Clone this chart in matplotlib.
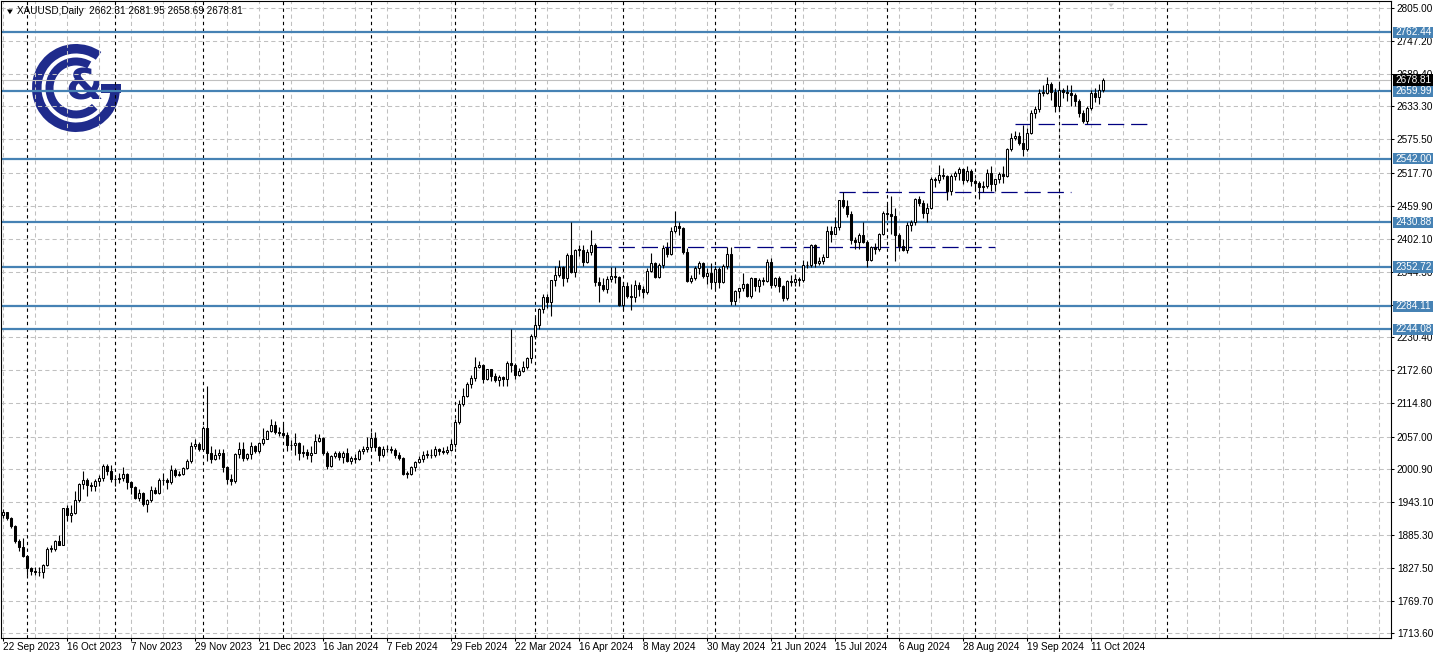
import matplotlib
matplotlib.use('Agg')
import matplotlib.pyplot as plt
from matplotlib.patches import Rectangle, Wedge, Polygon
from matplotlib.transforms import blended_transform_factory
import numpy as np

W, H = 1437, 658

# ---------------- data (XAUUSD daily, 22 Sep 2023 .. 16 Oct 2024) ----------------
opens = [
    1919.8, 1925.3, 1915.5, 1900.5, 1874.5, 1864.5,
    1848.6, 1827.6, 1822.7, 1820.8, 1820.4, 1833, 1861, 1861, 1874, 1868, 1932, 1920, 1923, 1947, 1974, 1981, 1973, 1970, 1979, 1985, 2006, 1996,
    1983, 1982, 1985, 1992, 1978, 1969, 1950, 1958, 1940, 1946, 1963, 1959, 1981, 1981, 1977, 1999, 1990, 1992, 2002, 2014, 2041, 2044,
    2036, 2072, 2029, 2018, 2025, 2028, 2004, 1982, 1979, 2027, 2036, 2019, 2027, 2040, 2031, 2045, 2053, 2067, 2077, 2065,
    2063, 2059, 2042, 2043, 2045, 2028, 2030, 2024, 2029, 2049, 2055, 2028, 2006, 2023, 2029, 2021, 2029, 2014, 2020, 2018, 2032, 2036,
    2039, 2054, 2039, 2025, 2035, 2035, 2034, 2024, 2020, 1992, 1992, 2004, 2013, 2017, 2025, 2025, 2024, 2035, 2031, 2030, 2034,
    2044, 2083, 2114, 2128, 2148, 2159, 2179, 2182, 2158, 2174, 2162, 2155, 2160, 2157, 2186, 2181, 2165, 2172, 2179, 2194,
    2232, 2251, 2280, 2300, 2291, 2330, 2339, 2352, 2333, 2373, 2344, 2383, 2383, 2361, 2379, 2392, 2327, 2322, 2315, 2332, 2337, 2335,
    2286, 2320, 2303, 2301, 2322, 2314, 2309, 2346, 2360, 2336, 2357, 2386, 2376, 2415, 2425, 2421, 2379, 2329, 2334, 2351, 2360, 2338, 2343,
    2327, 2350, 2327, 2355, 2376, 2294, 2311, 2316, 2324, 2303, 2333, 2319, 2330, 2328, 2361, 2322, 2334, 2319, 2298, 2328,
    2326, 2332, 2330, 2356, 2356, 2392, 2359, 2364, 2371, 2415, 2411, 2422, 2469, 2459, 2445, 2400, 2396, 2409, 2397, 2365, 2387, 2384, 2411,
    2447, 2446, 2442, 2409, 2389, 2382, 2427, 2431, 2472, 2465, 2447, 2456, 2507, 2504, 2514, 2512, 2485, 2512, 2517, 2524, 2504, 2521,
    2503, 2500, 2493, 2495, 2517, 2497, 2506, 2516, 2512, 2558, 2578, 2582, 2570, 2559, 2587, 2622, 2628, 2657, 2657, 2672, 2658,
    2634, 2662, 2658, 2656, 2653, 2643, 2622, 2608, 2631, 2657, 2649, 2662.31,
]
highs = [
    1931, 1925.5, 1917, 1903, 1879, 1880,
    1850, 1829, 1829, 1829, 1835, 1865, 1867, 1876, 1885, 1933, 1937, 1937, 1962, 1976, 1997, 1985, 1977, 1983, 1990, 2009, 2009, 2007,
    1987, 1993, 2003, 1994, 1980, 1971, 1965, 1960, 1948, 1971, 1969, 1984, 1993, 1984, 2007, 2002, 1996, 2003, 2018, 2048, 2052, 2048,
    2075, 2146, 2040, 2036, 2035, 2035, 2005, 1991, 2028, 2047, 2047, 2029, 2047, 2043, 2047, 2071, 2069, 2088, 2084, 2074,
    2079, 2065, 2051, 2064, 2047, 2042, 2036, 2040, 2062, 2061, 2057, 2031, 2024, 2031, 2032, 2032, 2037, 2023, 2026, 2036, 2040, 2056,
    2065, 2065, 2040, 2040, 2043, 2041, 2037, 2030, 2022, 1996, 2006, 2015, 2023, 2031, 2033, 2035, 2041, 2037, 2038, 2040, 2052,
    2088, 2120, 2141, 2152, 2165, 2195, 2189, 2184, 2175, 2175, 2168, 2164, 2163, 2188, 2245, 2185, 2177, 2189, 2196, 2236,
    2266, 2281, 2305, 2305, 2331, 2354, 2365, 2354, 2378, 2432, 2384, 2392, 2391, 2384, 2417, 2395, 2335, 2334, 2338, 2352, 2353, 2337,
    2326, 2326, 2323, 2331, 2326, 2319, 2351, 2378, 2362, 2359, 2391, 2397, 2422, 2450, 2432, 2422, 2386, 2339, 2355, 2364, 2362, 2351, 2360,
    2354, 2352, 2358, 2388, 2387, 2313, 2317, 2342, 2325, 2335, 2334, 2334, 2336, 2366, 2368, 2335, 2337, 2322, 2330, 2339,
    2340, 2335, 2365, 2364, 2393, 2393, 2370, 2376, 2425, 2425, 2440, 2470, 2483, 2470, 2450, 2405, 2412, 2431, 2400, 2390, 2394, 2413, 2451,
    2462, 2477, 2455, 2413, 2401, 2431, 2434, 2474, 2477, 2469, 2464, 2510, 2510, 2531, 2525, 2514, 2516, 2521, 2528, 2525, 2529, 2524,
    2506, 2503, 2503, 2524, 2529, 2507, 2518, 2529, 2560, 2586, 2590, 2589, 2600, 2596, 2626, 2633, 2664, 2670, 2685, 2675, 2666,
    2673, 2666, 2671, 2671, 2656, 2646, 2627, 2634, 2662, 2666, 2673, 2681.95,
]
lows = [
    1915, 1911, 1897, 1872, 1858, 1846,
    1816, 1815, 1815, 1813, 1810.5, 1831, 1855, 1857, 1867, 1867, 1910, 1908, 1922, 1942, 1965, 1953, 1962, 1962, 1970, 1980, 1990, 1978,
    1970, 1976, 1980, 1965, 1956, 1948, 1945, 1936, 1925, 1943, 1956, 1956, 1973, 1965, 1975, 1986, 1988, 1990, 2001, 2011, 2036, 2031,
    2035, 2014, 2010, 2016, 2017, 1995, 1975, 1973, 1976, 2020, 2015, 2016, 2017, 2028, 2029, 2042, 2052, 2065, 2062, 2058,
    2057, 2031, 2033, 2024, 2016, 2022, 2017, 2013, 2028, 2048, 2024, 2001, 2004, 2020, 2016, 2010, 2013, 2009, 2011, 2016, 2026, 2030,
    2035, 2032, 2014, 2022, 2030, 2029, 2020, 2016, 1990, 1984, 1989, 1997, 2011, 2013, 2020, 2019, 2022, 2025, 2026, 2026, 2032,
    2038, 2078, 2111, 2126, 2142, 2154, 2176, 2150, 2156, 2154, 2152, 2146, 2146, 2146, 2170, 2157, 2163, 2170, 2175, 2186,
    2228, 2245, 2272, 2282, 2268, 2320, 2336, 2319, 2326, 2342, 2335, 2372, 2355, 2359, 2373, 2320, 2291, 2311, 2308, 2327, 2325, 2285,
    2277, 2298, 2277, 2291, 2303, 2298, 2306, 2344, 2333, 2334, 2351, 2370, 2374, 2412, 2409, 2375, 2326, 2325, 2331, 2340, 2334, 2323, 2314,
    2314, 2316, 2325, 2350, 2287, 2286, 2298, 2311, 2301, 2299, 2311, 2310, 2322, 2326, 2316, 2318, 2310, 2293, 2295, 2319,
    2319, 2319, 2326, 2351, 2353, 2353, 2356, 2358, 2370, 2396, 2410, 2417, 2455, 2440, 2393, 2384, 2385, 2395, 2353, 2364, 2376, 2380, 2408,
    2434, 2411, 2364, 2381, 2380, 2378, 2415, 2427, 2459, 2439, 2431, 2454, 2492, 2499, 2507, 2470, 2479, 2505, 2504, 2498, 2502, 2495,
    2487, 2472, 2484, 2490, 2485, 2486, 2500, 2500, 2510, 2555, 2575, 2566, 2547, 2555, 2585, 2613, 2624, 2652, 2654, 2645, 2624,
    2625, 2648, 2643, 2634, 2633, 2615, 2605, 2603, 2627, 2641, 2638, 2658.69,
]
closes = [
    1925.3, 1915.5, 1900.5, 1874.5, 1864.5, 1848.6,
    1827.6, 1822.7, 1820.8, 1820.4, 1833, 1861, 1861, 1874, 1868, 1932, 1920, 1923, 1947, 1974, 1981, 1973, 1970, 1979, 1985, 2006, 1996, 1983,
    1982, 1985, 1992, 1978, 1969, 1950, 1958, 1940, 1946, 1963, 1959, 1981, 1981, 1977, 1999, 1990, 1992, 2002, 2014, 2041, 2044, 2036,
    2072, 2029, 2018, 2025, 2028, 2004, 1982, 1979, 2027, 2036, 2019, 2027, 2040, 2031, 2045, 2053, 2067, 2077, 2065, 2063,
    2059, 2042, 2043, 2045, 2028, 2030, 2024, 2029, 2049, 2055, 2028, 2006, 2023, 2029, 2021, 2029, 2014, 2020, 2018, 2032, 2036, 2039,
    2054, 2039, 2025, 2035, 2035, 2034, 2024, 2020, 1992, 1992, 2004, 2013, 2017, 2025, 2025, 2024, 2035, 2031, 2030, 2034, 2044,
    2083, 2114, 2128, 2148, 2159, 2179, 2182, 2158, 2174, 2162, 2155, 2160, 2157, 2186, 2181, 2165, 2172, 2179, 2194, 2232,
    2251, 2280, 2300, 2291, 2330, 2339, 2352, 2333, 2373, 2344, 2383, 2383, 2361, 2379, 2392, 2327, 2322, 2315, 2332, 2337, 2335, 2286,
    2320, 2303, 2301, 2322, 2314, 2309, 2346, 2360, 2336, 2357, 2386, 2376, 2415, 2425, 2421, 2379, 2329, 2334, 2351, 2360, 2338, 2343, 2327,
    2350, 2327, 2355, 2376, 2294, 2311, 2316, 2324, 2303, 2333, 2319, 2330, 2328, 2361, 2322, 2334, 2319, 2298, 2328, 2326,
    2332, 2330, 2356, 2356, 2392, 2359, 2364, 2371, 2415, 2411, 2422, 2469, 2459, 2445, 2400, 2396, 2409, 2397, 2365, 2387, 2384, 2411, 2447,
    2446, 2442, 2409, 2389, 2382, 2427, 2431, 2472, 2465, 2447, 2456, 2507, 2504, 2514, 2512, 2485, 2512, 2517, 2524, 2504, 2521, 2503,
    2500, 2493, 2495, 2517, 2497, 2506, 2516, 2512, 2558, 2578, 2582, 2570, 2559, 2587, 2622, 2628, 2657, 2657, 2672, 2658, 2634,
    2662, 2658, 2656, 2653, 2643, 2622, 2608, 2631, 2657, 2649, 2662, 2678.81,
]

x_tick_labels = ['22 Sep 2023', '16 Oct 2023', '7 Nov 2023', '29 Nov 2023', '21 Dec 2023',
                 '16 Jan 2024', '7 Feb 2024', '29 Feb 2024', '22 Mar 2024', '16 Apr 2024',
                 '8 May 2024', '30 May 2024', '21 Jun 2024', '15 Jul 2024', '6 Aug 2024',
                 '28 Aug 2024', '19 Sep 2024', '11 Oct 2024']
x_tick_bars = [0, 16, 32, 48, 64, 80, 96, 112, 128, 144, 160, 176, 192, 208, 224, 240, 256, 272]
month_start_bars = [6, 28, 50, 70, 92, 113, 133, 155, 178, 198, 221, 243, 264, 291]
price_ticks = [2805.00, 2747.20, 2689.40, 2633.30, 2575.50, 2517.70, 2459.90, 2402.10,
               2344.30, 2286.50, 2230.40, 2172.60, 2114.80, 2057.00, 2000.90, 1943.10,
               1885.30, 1827.50, 1769.70, 1713.60]
level_prices = [2762.44, 2659.99, 2542.00, 2430.88, 2352.72, 2284.11, 2244.08]
dash_prices = [2602.4, 2484.5, 2388.5]
dash_from = [253, 209, 148]
dash_to = [287, 267, 248]
last_price = 2678.81
header = 'XAUUSD,Daily  2662.31 2681.95 2658.69 2678.81'

assert len(opens) == len(highs) == len(lows) == len(closes), (len(opens), len(highs), len(lows), len(closes))

# ---------------- figure / axes geometry ----------------
FONT = 'Liberation Sans'
FS = 7.2
plt.rcParams['font.family'] = [FONT, 'DejaVu Sans']
fig = plt.figure(figsize=(W / 100, H / 100), dpi=100)
fig.patch.set_facecolor('white')

L, R, T, B = 1.0, 1391.0, 0.5, 637.5
PXB = 4.0      # pixels per bar
KPX = 0.57302  # pixels per price unit

# background axes for the logo (pixel coordinates)
bg = fig.add_axes([0, 0, 1, 1], zorder=0)
bg.set_xlim(0, W)
bg.set_ylim(H, 0)
bg.axis('off')

navy = '#1f2b8c'
cx, cy = 76.0, 88.0
bg.add_patch(Wedge((cx, cy), 44, 0, 305, width=9.5, facecolor=navy, edgecolor='none'))
bg.add_patch(Rectangle((101, cy - 4.5), 19.5, 9.0, facecolor=navy, edgecolor='none'))
bg.add_patch(Wedge((cx, cy), 30.5, 45, 300, width=8.0, facecolor=navy, edgecolor='none'))
bg.text(84, 87, '&', fontsize=31, fontweight='bold', color=navy, ha='center', va='center',
        family='DejaVu Sans')

ax = fig.add_axes([L / W, 1 - B / H, (R - L) / W, (B - T) / H], zorder=1)
ax.patch.set_visible(False)
x0 = -(2.7 - L) / PXB
ax.set_xlim(x0, x0 + (R - L) / PXB)
ax.set_ylim(2805.0 - (B - 7.9) / KPX, 2805.0 + (7.9 - T) / KPX)

for s in ax.spines.values():
    s.set_color('black')
    s.set_linewidth(0.8)

# grid
grid_kw = dict(color='#c0c0c0', lw=0.75, ls=(0, (4, 3)), zorder=0.5)
for p in price_ticks:
    ax.axhline(p, **grid_kw)
for i in range(0, 348, 8):
    ax.axvline(i, **grid_kw)

# month separators
for i in month_start_bars:
    ax.axvline(i, color='black', lw=0.8, ls=(0, (3, 3)), zorder=1)

# horizontal levels
ax.axhline(last_price, color='#c0c0c0', lw=0.8, zorder=1.2)
for p in level_prices:
    ax.axhline(p, color='#4682b4', lw=1.6, zorder=1.5)
for p, a, b in zip(dash_prices, dash_from, dash_to):
    ax.hlines(p, a, b, color='#000080', lw=0.9, ls=(0, (13, 5.5)), zorder=1.6)

# candles
o = np.array(opens, float)
h = np.array(highs, float)
l = np.array(lows, float)
c = np.array(closes, float)
idx = np.arange(len(c))
up = c >= o
ax.vlines(idx, l, h, color='black', lw=0.8, zorder=3)
bot = np.minimum(o, c)
hei = np.maximum(np.abs(c - o), 0.8)
ax.bar(idx[up], hei[up], bottom=bot[up], width=0.5, color='white', edgecolor='black',
       linewidth=0.75, zorder=4)
ax.bar(idx[~up], hei[~up], bottom=bot[~up], width=0.5, color='black', edgecolor='black',
       linewidth=0.75, zorder=4)

# axes ticks
ax.yaxis.tick_right()
ax.set_yticks(price_ticks)
ax.set_yticklabels(['%.2f' % p for p in price_ticks])
ax.tick_params(axis='y', direction='out', length=2.2, width=0.75, pad=2.0, labelsize=FS)
ax.set_xticks(x_tick_bars)
ax.set_xticklabels(x_tick_labels, ha='left')
ax.tick_params(axis='x', direction='out', length=2.2, width=0.75, pad=1.2, labelsize=FS)

# price tags on the right scale
tr = blended_transform_factory(ax.transAxes, ax.transData)
fx0 = (1393 - L) / (R - L)
fx1 = (1433 - L) / (R - L)
ftx = (1395 - L) / (R - L)
th = 11.5 / KPX
for p in level_prices:
    ax.add_patch(Rectangle((fx0, p - th / 2), fx1 - fx0, th, transform=tr, clip_on=False,
                           facecolor='#4682b4', edgecolor='none', zorder=10))
    ax.text(ftx, p, '%.2f' % p, transform=tr, color='white', fontsize=FS, va='center',
            ha='left', clip_on=False, zorder=11)
ax.add_patch(Rectangle((fx0, last_price - th / 2), fx1 - fx0, th, transform=tr, clip_on=False,
                       facecolor='black', edgecolor='none', zorder=10))
ax.text(ftx, last_price, '%.2f' % last_price, transform=tr, color='white', fontsize=FS,
        va='center', ha='left', clip_on=False, zorder=11)

# header
ov = fig.add_axes([0, 0, 1, 1], zorder=5)
ov.set_xlim(0, W)
ov.set_ylim(H, 0)
ov.axis('off')
ov.add_patch(Polygon([(7.0, 9.5), (12.8, 9.5), (9.9, 14.2)], closed=True, facecolor='black',
                     edgecolor='none'))
ov.text(17, 11.5, header, fontsize=FS, va='center', ha='left', color='black')
ov.add_patch(Polygon([(1108, 3.5), (1114, 3.5), (1111, 7)], closed=True, facecolor='#c8c8c8',
                     edgecolor='none'))

fig.savefig('out.png', dpi=100, facecolor='white')
